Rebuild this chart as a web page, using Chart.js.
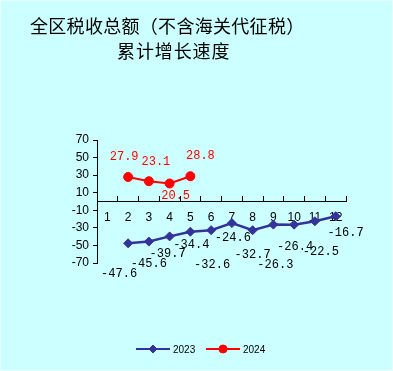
<!DOCTYPE html>
<html>
<head>
<meta charset="utf-8">
<script src="https://cdn.jsdelivr.net/npm/chart.js@4"></script>
<style>
  html, body { margin: 0; padding: 0; background: #ccffff; }
  #wrap { position: relative; width: 393px; height: 371px; overflow: hidden; }
  #frame { position: absolute; left: 0; top: 0; width: 393px; height: 371px; box-sizing: border-box; border: 1px solid #e8ffff; pointer-events: none; }
  .title { position: absolute; font-family: "Noto Sans CJK SC", sans-serif; font-size: 18px; color: #000; white-space: nowrap; line-height: 22px; }
  #t1 { left: 30px; top: 14px; letter-spacing: 0.3px; }
  #t2 { left: 117px; top: 39px; letter-spacing: 0.9px; }
  canvas { position: absolute; left: 0; top: 0; }
</style>
</head>
<body>
<div id="wrap">
  <canvas id="chart" width="393" height="371"></canvas>
  <div class="title" id="t1">全区税收总额（不含海关代征税）</div>
  <div class="title" id="t2">累计增长速度</div>
  <div id="frame"></div>
</div>
<script>
// 累计增长速度 (%), by month
var months = ["1", "2", "3", "4", "5", "6", "7", "8", "9", "10", "11", "12"];
var growth2023 = [null, -47.6, -45.6, -39.7, -34.4, -32.6, -24.6, -32.7, -26.3, -26.4, -22.5, -16.7];
var growth2024 = [null, 27.9, 23.1, 20.5, 28.8, null, null, null, null, null, null, null];
var seriesNames = ["2023", "2024"];
var yTicks = [70, 50, 30, 10, -10, -30, -50, -70];

var BLUE = "#333399";
var RED = "#ff0000";

// label offsets from each point (dx, dy of label centre)
var labelOffsets = [
  [null, [-9, 31], [0, 22], [-2, 17], [1, 13], [1, 35], [1, 15], [0, 25], [2, 40], [1, 22], [6, 31], [10, 17]],
  [null, [-4, -20], [7, -19], [6, 12], [10, -20]]
];
var labelColors = ["#000000", RED];

var pointLabels = {
  id: "pointLabels",
  afterDatasetsDraw: function (chart) {
    var ctx = chart.ctx;
    ctx.save();
    ctx.font = "12px 'Liberation Mono', monospace";
    ctx.textAlign = "center";
    ctx.textBaseline = "middle";
    chart.data.datasets.forEach(function (ds, di) {
      var meta = chart.getDatasetMeta(di);
      meta.data.forEach(function (pt, i) {
        var v = ds.data[i];
        if (v === null || v === undefined) return;
        var off = (labelOffsets[di] && labelOffsets[di][i]) || [0, -12];
        ctx.fillStyle = labelColors[di];
        ctx.fillText(v.toFixed(1), pt.x + off[0], pt.y + off[1]);
      });
    });
    ctx.restore();
  }
};

// Excel-style legend: short line with the marker on it
var lineLegend = {
  id: "lineLegend",
  afterDraw: function (chart) {
    var ctx = chart.ctx;
    var y = 349;
    var x0 = 136;
    ctx.save();
    chart.data.datasets.forEach(function (ds, di) {
      var x = x0 + di * 70;
      ctx.strokeStyle = ds.borderColor;
      ctx.lineWidth = 2;
      ctx.beginPath();
      ctx.moveTo(x, y);
      ctx.lineTo(x + 34, y);
      ctx.stroke();
      ctx.fillStyle = ds.pointBackgroundColor;
      ctx.strokeStyle = ds.pointBorderColor;
      ctx.lineWidth = 1;
      Chart.helpers.drawPoint(ctx, { pointStyle: ds.pointStyle, radius: 4, rotation: 0, borderWidth: 1 }, x + 17, y);
      ctx.fillStyle = "#000";
      ctx.font = "10px 'Liberation Sans', sans-serif";
      ctx.textAlign = "left";
      ctx.textBaseline = "middle";
      ctx.fillText(ds.label, x + 37, y + 1);
    });
    ctx.restore();
  }
};

new Chart(document.getElementById("chart").getContext("2d"), {
  type: "line",
  data: {
    labels: months,
    datasets: [{
      label: seriesNames[0],
      data: growth2023,
      borderColor: BLUE,
      backgroundColor: BLUE,
      borderWidth: 2.5,
      pointStyle: "rectRot",
      pointRadius: 4.5,
      pointBorderWidth: 1,
      pointBackgroundColor: BLUE,
      pointBorderColor: BLUE,
      tension: 0
    }, {
      label: seriesNames[1],
      data: growth2024,
      borderColor: RED,
      backgroundColor: RED,
      borderWidth: 2,
      pointStyle: "circle",
      pointRadius: 4.5,
      pointBorderWidth: 1,
      pointBackgroundColor: RED,
      pointBorderColor: RED,
      tension: 0
    }]
  },
  options: {
    responsive: false,
    animation: false,
    devicePixelRatio: 1,
    layout: { padding: { top: 140, bottom: 108, left: 0, right: 47 } },
    plugins: {
      legend: { display: false },
      title: { display: false },
      tooltip: { enabled: false }
    },
    scales: {
      x: {
        type: "category",
        offset: true,
        position: { y: 0 },
        grid: {
          offset: true,
          drawOnChartArea: false,
          drawTicks: true,
          tickLength: -6,
          color: "#000"
        },
        border: { display: true, color: "#000", width: 1 },
        ticks: {
          color: "#000",
          padding: 15,
          maxRotation: 0,
          autoSkip: false,
          font: { family: "'Liberation Sans', sans-serif", size: 12 }
        }
      },
      y: {
        min: -70,
        max: 70,
        afterBuildTicks: function (scale) {
          scale.ticks = yTicks.map(function (v) { return { value: v }; });
        },
        afterFit: function (scale) { scale.width = 97; },
        grid: {
          drawOnChartArea: false,
          drawTicks: true,
          tickLength: 4,
          color: "#000"
        },
        border: { display: true, color: "#000", width: 1 },
        ticks: {
          color: "#000",
          padding: 4,
          font: { family: "'Liberation Sans', sans-serif", size: 12 }
        }
      }
    }
  },
  plugins: [pointLabels, lineLegend]
});
</script>
</body>
</html>
